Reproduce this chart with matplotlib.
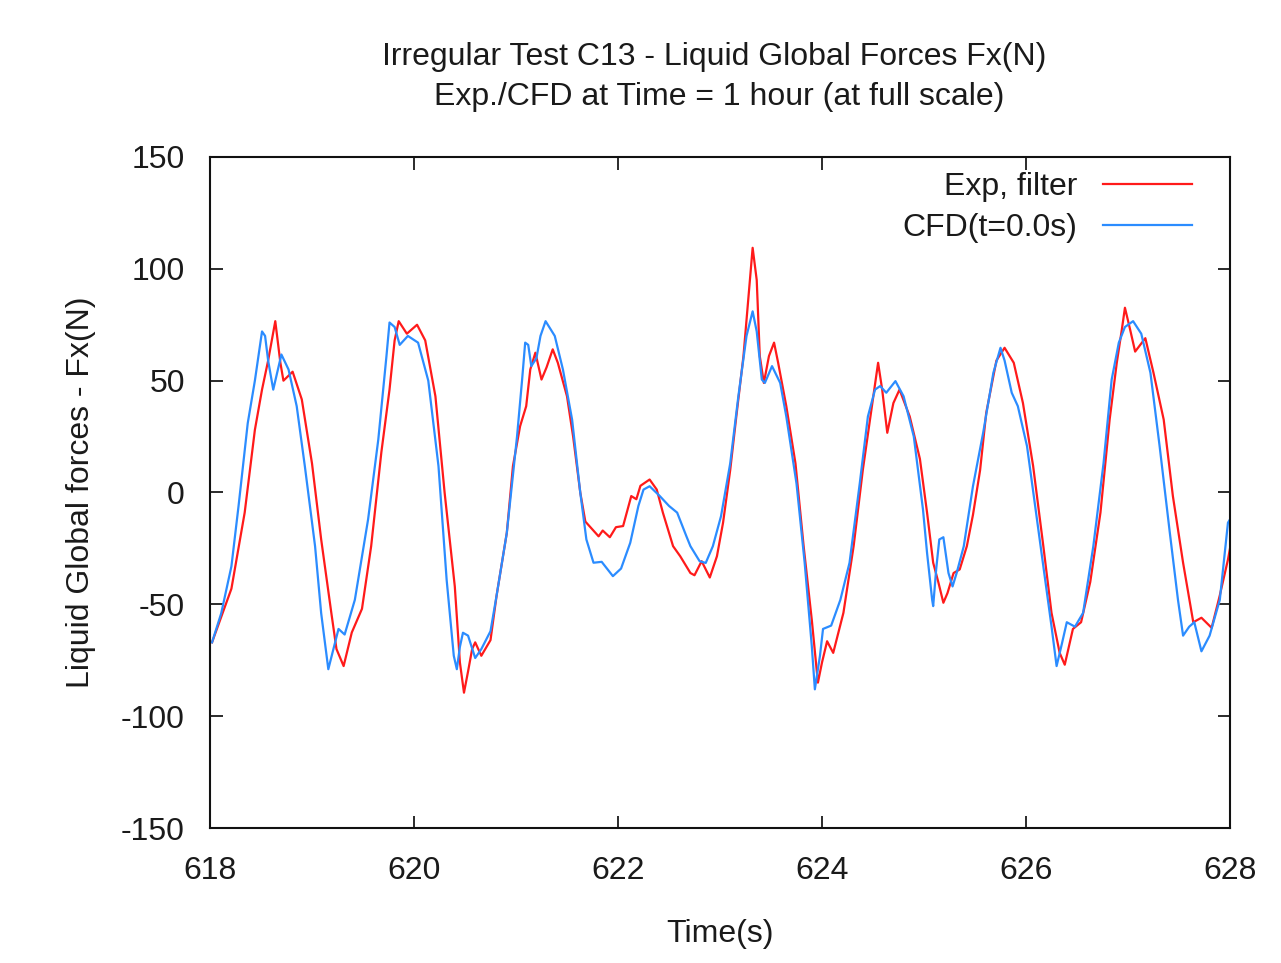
import matplotlib
matplotlib.use("Agg")
import matplotlib.pyplot as plt

plt.rcParams['font.family'] = ['Liberation Sans', 'DejaVu Sans']
plt.rcParams['axes.unicode_minus'] = False

# Exp, filter (red)
t_exp = [618.02, 618.21, 618.34, 618.44, 618.51, 618.57, 618.64, 618.69, 618.72, 618.81,
         618.90, 619.00, 619.09, 619.19, 619.24, 619.31, 619.39, 619.49, 619.58, 619.68,
         619.76, 619.81, 619.85, 619.93, 620.03, 620.11, 620.21, 620.30, 620.40, 620.45,
         620.49, 620.53, 620.57, 620.60, 620.66, 620.75, 620.81, 620.91, 620.97, 621.04,
         621.10, 621.14, 621.19, 621.25, 621.30, 621.36, 621.41, 621.50, 621.56, 621.63,
         621.68, 621.81, 621.85, 621.92, 621.98, 622.05, 622.13, 622.18, 622.22, 622.31,
         622.38, 622.44, 622.54, 622.61, 622.71, 622.75, 622.82, 622.90, 622.97, 623.03,
         623.10, 623.16, 623.23, 623.28, 623.32, 623.36, 623.39, 623.43, 623.48, 623.53,
         623.57, 623.65, 623.74, 623.82, 623.90, 623.96, 624.00, 624.05, 624.11, 624.21,
         624.31, 624.40, 624.49, 624.55, 624.59, 624.64, 624.70, 624.76, 624.86, 624.96,
         625.03, 625.09, 625.14, 625.19, 625.23, 625.29, 625.35, 625.42, 625.48, 625.55,
         625.61, 625.71, 625.79, 625.88, 625.97, 626.07, 626.17, 626.25, 626.33, 626.38,
         626.46, 626.54, 626.63, 626.73, 626.82, 626.89, 626.94, 626.97, 627.02, 627.07,
         627.17, 627.25, 627.35, 627.44, 627.54, 627.64, 627.72, 627.82, 627.90, 627.98,
         628.00]
f_exp = [-67, -43, -9, 28, 46, 59, 76.6, 58, 50, 54,
         41.6, 13, -21, -54, -70, -77.6, -62.6, -52, -24, 18,
         46, 68, 76.6, 71, 75, 68, 43, 0, -42, -76,
         -89.5, -80, -70, -67, -73, -66, -46, -18, 11.8, 29.6,
         38.6, 55, 62.5, 50.5, 56, 64, 58, 43, 25, 0,
         -13, -19.6, -17, -20, -15.5, -15, -1.6, -3, 3, 5.8,
         1.3, -9, -24, -28.5, -36, -37, -30.7, -38, -28.5, -13.5,
         10, 34, 61, 87.7, 109.4, 95, 61, 49, 61, 67,
         58, 38.6, 13, -24, -57, -85, -76, -66.5, -71.7, -53.8,
         -24, 10, 38.6, 58, 46, 26.7, 40, 46, 34, 15,
         -9, -31.4, -40, -49.3, -45, -36, -34.4, -24, -10, 10,
         35.6, 59, 64.7, 58, 40, 11.8, -24, -53.8, -71.7, -77,
         -61, -58, -40, -9, 32.6, 58, 73, 82.6, 73, 63,
         69, 53.5, 32.6, -1.6, -31.4, -58, -56, -60.5, -46, -30,
         -25]

# CFD(t=0.0s) (blue)
t_cfd = [618.02, 618.11, 618.21, 618.28, 618.37, 618.44, 618.51, 618.54, 618.57, 618.62,
         618.70, 618.77, 618.85, 618.93, 619.03, 619.09, 619.16, 619.21, 619.26, 619.32,
         619.42, 619.55, 619.65, 619.73, 619.76, 619.81, 619.86, 619.94, 620.04, 620.14,
         620.24, 620.32, 620.39, 620.42, 620.45, 620.48, 620.53, 620.60, 620.66, 620.75,
         620.81, 620.91, 621.01, 621.06, 621.09, 621.12, 621.15, 621.20, 621.24, 621.29,
         621.38, 621.46, 621.55, 621.63, 621.69, 621.76, 621.84, 621.95, 622.03, 622.12,
         622.20, 622.25, 622.31, 622.41, 622.50, 622.58, 622.67, 622.71, 622.80, 622.86,
         622.93, 623.01, 623.10, 623.18, 623.26, 623.32, 623.36, 623.41, 623.44, 623.51,
         623.59, 623.65, 623.75, 623.83, 623.90, 623.93, 623.98, 624.01, 624.09, 624.18,
         624.27, 624.37, 624.45, 624.52, 624.57, 624.63, 624.72, 624.80, 624.90, 624.99,
         625.03, 625.08, 625.09, 625.12, 625.15, 625.19, 625.24, 625.28, 625.32, 625.39,
         625.48, 625.58, 625.68, 625.75, 625.79, 625.86, 625.92, 626.01, 626.09, 626.17,
         626.25, 626.30, 626.35, 626.40, 626.48, 626.56, 626.66, 626.76, 626.84, 626.91,
         626.97, 627.05, 627.13, 627.22, 627.31, 627.41, 627.49, 627.54, 627.60, 627.65,
         627.72, 627.80, 627.90, 627.98, 628.00]
f_cfd = [-67, -54, -33, -6, 31, 50, 72, 70, 59, 46,
         61.7, 55, 38.6, 11.7, -24, -54, -79, -70, -61, -63.5,
         -48, -12, 23.7, 61, 76, 74, 66, 70, 67, 50,
         11.8, -39, -73, -79, -69, -62.7, -64, -74, -70, -62,
         -46, -18, 25, 50.5, 67, 66, 56.5, 60, 70, 76.6,
         70, 55, 32.6, 0, -21, -31.4, -31, -37.4, -34, -22.5,
         -6, 1.3, 2.8, -1.6, -6, -9, -19.5, -24, -30.7, -31.5,
         -24, -10.6, 13, 43, 70, 81, 72, 50.5, 49, 56.5,
         49, 34, 4, -31.4, -68.7, -88, -73, -61, -59.5, -48,
         -31.4, 4, 34, 46, 47.6, 44.6, 49.8, 43, 25, -7.6,
         -27, -48, -50.8, -34, -21, -20, -36, -42, -36, -24,
         2.8, 26.7, 53.5, 64.7, 59, 44.6, 38.6, 20.7, -6, -33,
         -59.8, -77.6, -68, -58, -60, -53.8, -24, 13, 50.5, 67,
         74, 76.6, 71, 53.5, 20.7, -18, -48, -64, -60, -58,
         -71, -64, -48, -13.5, -12]

xticks = [618, 620, 622, 624, 626, 628]
yticks = [-150, -100, -50, 0, 50, 100, 150]

fig = plt.figure(figsize=(12.81, 9.63), dpi=100)
ax = fig.add_axes([210 / 1281, 135 / 963, 1020 / 1281, 671 / 963])

ax.plot(t_exp, f_exp, color='#ff1a1a', lw=1.6, label='Exp, filter')
ax.plot(t_cfd, f_cfd, color='#2b8cff', lw=1.6, label='CFD(t=0.0s)')

ax.set_xlim(618, 628)
ax.set_ylim(-150, 150)
ax.set_xticks(xticks)
ax.set_yticks(yticks)
ax.tick_params(direction='in', length=9, width=1.3, top=True, right=True,
               labelsize=23, colors='#1a1a1a', pad=18)
ax.tick_params(axis='x', pad=20)
for s in ax.spines.values():
    s.set_linewidth(1.5)
    s.set_color('#111111')

ax.set_xlabel('Time(s)', fontsize=23, color='#1a1a1a', labelpad=24)
ax.set_ylabel('Liquid Global forces - Fx(N)', fontsize=23, color='#1a1a1a', labelpad=18)

fig.text(714 / 1281, 1 - 57 / 963, 'Irregular Test C13 - Liquid Global Forces Fx(N)',
         ha='center', va='center', fontsize=23, color='#1a1a1a')
fig.text(719 / 1281, 1 - 97 / 963, 'Exp./CFD at Time = 1 hour (at full scale)',
         ha='center', va='center', fontsize=23, color='#1a1a1a')

leg = ax.legend(loc='upper right', bbox_to_anchor=(0.963, 0.978), frameon=False,
                markerfirst=False, fontsize=23, handlelength=2.8, handletextpad=0.8,
                borderaxespad=0, borderpad=0, labelspacing=0.35)
for txt in leg.get_texts():
    txt.set_color('#1a1a1a')

fig.savefig('out.png', dpi=100)
